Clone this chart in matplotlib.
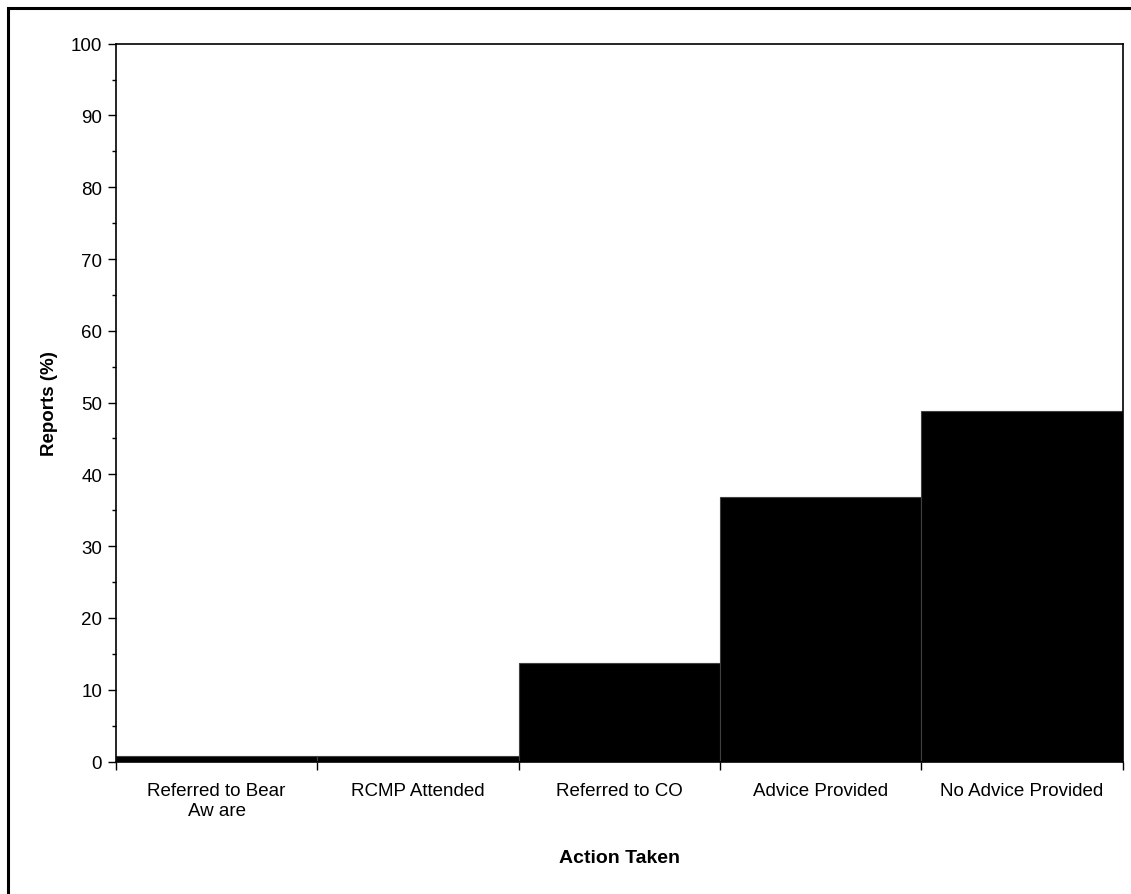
import matplotlib
matplotlib.use("Agg")
import matplotlib.pyplot as plt
from matplotlib.patches import Rectangle
from matplotlib.ticker import MultipleLocator

categories = ["Referred to Bear\nAw are", "RCMP Attended", "Referred to CO",
              "Advice Provided", "No Advice Provided"]
values = [0.75, 0.75, 13.7, 36.9, 48.8]
yticks = [0, 10, 20, 30, 40, 50, 60, 70, 80, 90, 100]

plt.rcParams['font.family'] = ['Liberation Sans', 'DejaVu Sans']

W, H = 1131, 895
fig = plt.figure(figsize=(W / 100, H / 100), dpi=100)
ax = fig.add_axes([116 / W, 1 - 762.5 / H, (1122.5 - 116) / W, (762.5 - 44.7) / H])

x = list(range(len(categories)))
ax.bar(x, values, width=1.0, color='black', edgecolor='#404040', linewidth=0.8)

ax.set_xlim(-0.5, len(categories) - 0.5)
ax.set_ylim(0, 100)
ax.set_yticks(yticks)
ax.yaxis.set_minor_locator(MultipleLocator(5))
ax.tick_params(axis='y', which='major', labelsize=13.5, length=6, width=1, direction='out', pad=4)
ax.tick_params(axis='y', which='minor', length=3, width=1, direction='out')

# category boundaries as tick marks, labels centered
ax.set_xticks([i - 0.5 for i in range(len(categories) + 1)])
ax.set_xticklabels([])
ax.set_xticks(x, minor=True)
ax.set_xticklabels(categories, minor=True, fontsize=13.5, linespacing=1.2)
ax.tick_params(axis='x', which='major', length=6, width=1, direction='out')
ax.tick_params(axis='x', which='minor', length=0, pad=15)

for s in ax.spines.values():
    s.set_linewidth(1.2)
    s.set_color('black')

ax.set_ylabel("Reports (%)", fontsize=13.5, fontweight='bold', labelpad=9)
ax.set_xlabel("Action Taken", fontsize=14, fontweight='bold', labelpad=22)

# outer chart-area border (cropped at right and bottom)
fig.patches.append(Rectangle((7.5 / W, -0.05), 1.2, 1 - 9 / H + 0.05,
                             transform=fig.transFigure, fill=False,
                             edgecolor='black', linewidth=2.2))

fig.savefig("out.png", dpi=100)
